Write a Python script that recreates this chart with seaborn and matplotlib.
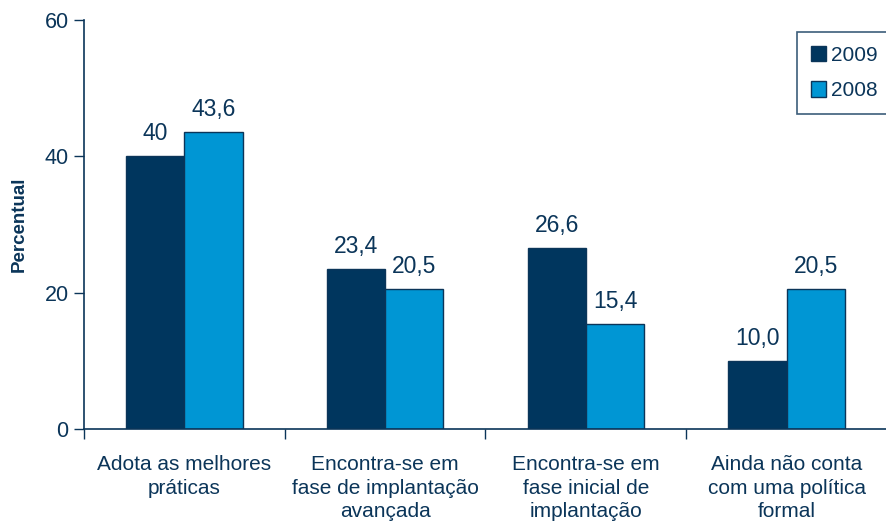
import numpy as np
import pandas as pd
import seaborn as sns
import matplotlib.pyplot as plt
from matplotlib.patches import Patch

categories = ["Adota as melhores\npráticas",
              "Encontra-se em\nfase de implantação\navançada",
              "Encontra-se em\nfase inicial de\nimplantação",
              "Ainda não conta\ncom uma política\nformal"]
years = ["2009", "2008"]
values_2009 = [40.0, 23.4, 26.6, 10.0]
values_2008 = [43.6, 20.5, 15.4, 20.5]
labels_2009 = ["40", "23,4", "26,6", "10,0"]
labels_2008 = ["43,6", "20,5", "15,4", "20,5"]

navy = "#0b3559"
dark = "#00365e"
light = "#0096d4"

df = pd.DataFrame({
    "categoria": categories * 2,
    "ano": [years[0]] * 4 + [years[1]] * 4,
    "valor": values_2009 + values_2008,
})

sns.set_style("white")
plt.rcParams["font.family"] = ["Liberation Sans", "DejaVu Sans"]

fig = plt.figure(figsize=(8.87, 5.22), dpi=100)
ax = fig.add_axes([0.0947, 0.178, 0.9053, 0.784])

sns.barplot(data=df, x="categoria", y="valor", hue="ano", hue_order=years,
            palette=[dark, light], saturation=1, width=0.58, edgecolor=navy,
            linewidth=1.0, legend=False, ax=ax)

for cont, labs in zip(ax.containers, [labels_2009, labels_2008]):
    ax.bar_label(cont, labels=labs, padding=8, fontsize=16.5, color=navy)

ax.set_xlim(-0.5, 3.5)
ax.set_ylim(0, 60)
ax.set_yticks([0, 20, 40, 60])
ax.set_yticklabels(["0", "20", "40", "60"], fontsize=15.5, color=navy)

# boundaries as major ticks, labels on minor ticks
ax.set_xticks(np.arange(-0.5, 4.0, 1.0))
ax.set_xticklabels([])
ax.set_xticks(np.arange(4), minor=True)
ax.set_xticklabels(categories, minor=True, fontsize=15, color=navy,
                   linespacing=1.3)
ax.tick_params(axis="x", which="major", direction="out", length=7,
               width=1, color=navy)
ax.tick_params(axis="x", which="minor", length=0, pad=19)
ax.tick_params(axis="y", direction="out", length=7, width=1, color=navy, pad=4)
ax.yaxis.set_ticks_position("left")
ax.xaxis.set_ticks_position("bottom")

ax.set_xlabel("")
ax.set_ylabel("Percentual", fontsize=13.5, fontweight="bold", color=navy,
              labelpad=12)

for s in ["top", "right"]:
    ax.spines[s].set_visible(False)
for s in ["left", "bottom"]:
    ax.spines[s].set_color(navy)
    ax.spines[s].set_linewidth(1.2)

handles = [Patch(facecolor=dark, edgecolor=navy, label=years[0]),
           Patch(facecolor=light, edgecolor=navy, label=years[1])]
leg = ax.legend(handles=handles, loc="upper left",
                bbox_to_anchor=(0.888, 0.97), borderaxespad=0,
                frameon=True, fancybox=False,
                fontsize=15, handlelength=0.75, handleheight=0.75,
                handletextpad=0.25, borderpad=0.65, labelspacing=0.8,
                labelcolor=navy)
leg.get_frame().set_edgecolor(navy)
leg.get_frame().set_linewidth(1.2)

fig.savefig("out.png", dpi=100)
